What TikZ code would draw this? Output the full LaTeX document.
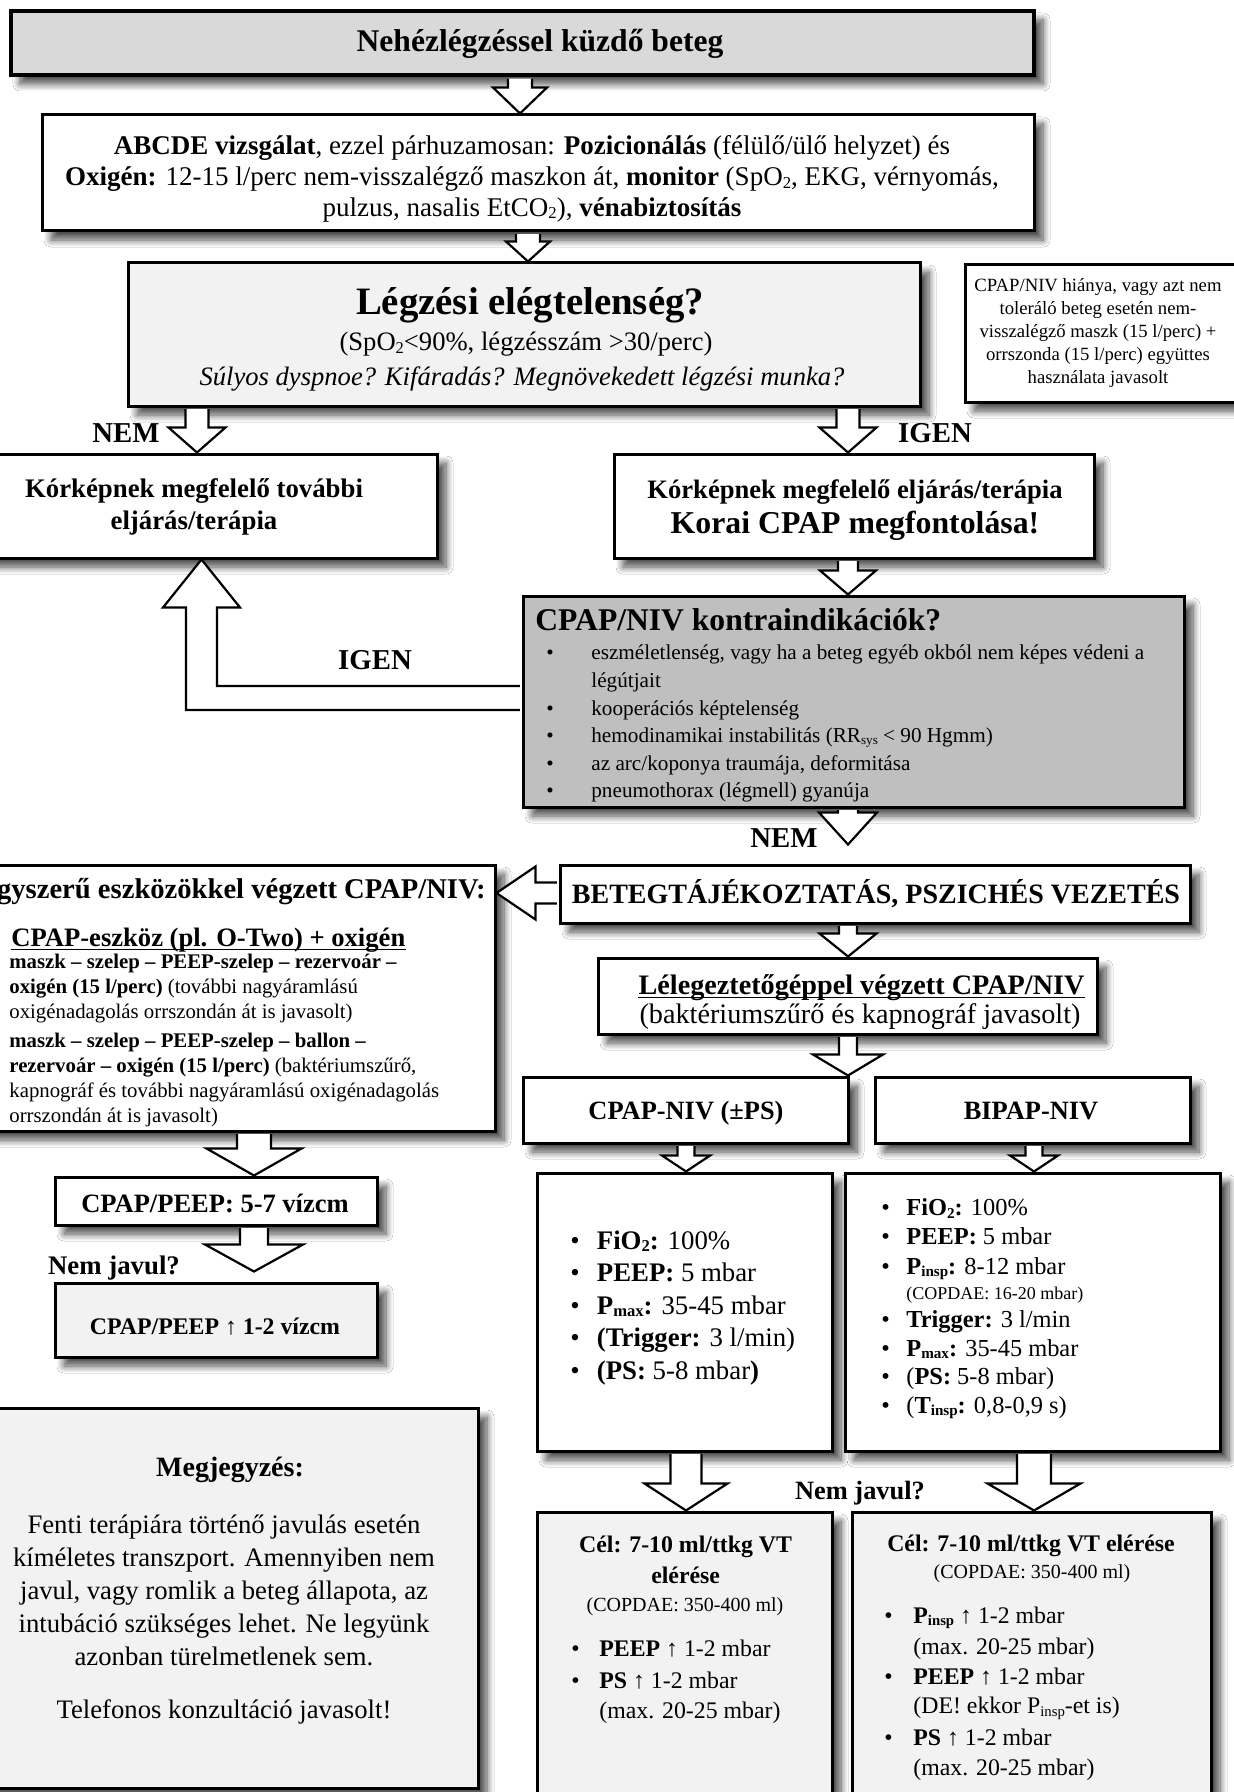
\documentclass[tikz,border=0pt]{standalone}
\usepackage{fontspec}
\usepackage{graphicx}
\setmainfont{Liberation Serif}
\usetikzlibrary{calc,shadows.blur}
\newcommand\fs[2]{\fontsize{#1pt}{#2pt}\selectfont}
\newcommand\kb[1]{\makebox[#1][l]{•}}
\newcommand\sbs[1]{\raisebox{-0.1em}{\scalebox{0.62}{#1}}}
\newcommand\dnblk[5]{\draw[blk] let \p1=#1, \p2=#2 in (\x1-#3,\y1-0.8pt) -- (\x1-#3,\y2+#5) -- (\x1-#4,\y2+#5) -- (\x1,\y2) -- (\x1+#4,\y2+#5) -- (\x1+#3,\y2+#5) -- (\x1+#3,\y1-0.8pt);}
\newcommand\ltblk[5]{\draw[blk] let \p1=#1, \p2=#2 in (\x1-0.8pt,\y1+#3) -- (\x2+#5,\y1+#3) -- (\x2+#5,\y1+#4) -- (\x2,\y1) -- (\x2+#5,\y1-#4) -- (\x2+#5,\y1-#3) -- (\x1-0.8pt,\y1-#3);}
\tikzset{
 bx/.style={draw, line width=1.5pt, fill=white, inner sep=0pt, blur shadow={shadow xshift=4.5pt, shadow yshift=-4.5pt, shadow blur radius=3.5pt, shadow blur steps=10, shadow opacity=70}},
 blk/.style={draw, fill=white, line width=1.1pt, line join=miter},
 txt/.style={inner sep=0pt, text height=0.72em, text depth=0.25em, yshift=-2.85pt},
 ml/.style={inner sep=0pt, yshift=-1.4pt},
 ul/.style={line width=0.8pt}
}
\begin{document}
\begin{tikzpicture}[x=0.5pt,y=-0.5pt]
\useasboundingbox (0,0) rectangle (1234,1792);
\fill[white] (0,0) rectangle (1234,1792);
% boxes
\node[bx, fill=gray!30, line width=2pt, minimum width=511.5pt, minimum height=32pt] (title) at (522.5,43) {};
\node[bx, minimum width=496pt, minimum height=58pt] (abcde) at (538,173) {};
\node[bx, fill=gray!10, minimum width=396pt, minimum height=71.5pt] (legz) at (524,334.5) {};
\node[bx, minimum width=142.5pt, minimum height=68.5pt] (side) at (1107.5,333.5) {};
\node[bx, minimum width=243pt, minimum height=52pt] (korL) at (194,506) {};
\node[bx, minimum width=240pt, minimum height=52pt] (korR) at (854,506) {};
\node[bx, fill=gray!50, minimum width=330.5pt, minimum height=105.5pt] (kontra) at (853.5,701.5) {};
\node[bx, minimum width=315pt, minimum height=29pt] (beteg) at (875,894) {};
\node[bx, minimum width=267.5pt, minimum height=133pt] (egy) at (227.5,998) {};
\node[bx, minimum width=249.5pt, minimum height=38pt] (lel) at (847.5,996) {};
\node[bx, minimum width=162.5pt, minimum height=33pt] (cpapniv) at (685.5,1110) {};
\node[bx, minimum width=157.5pt, minimum height=33pt] (bipapniv) at (1032.5,1110) {};
\node[bx, minimum width=147.5pt, minimum height=139pt] (cpappar) at (684.5,1312) {};
\node[bx, minimum width=187.5pt, minimum height=139pt] (bipappar) at (1032.5,1312) {};
\node[bx, fill=gray!10, minimum width=147.5pt, minimum height=149pt] (celL) at (684.5,1661) {};
\node[bx, fill=gray!10, minimum width=179.5pt, minimum height=149pt] (celR) at (1031.5,1661) {};
\node[bx, minimum width=161pt, minimum height=24pt] (peep57) at (216,1201) {};
\node[bx, fill=gray!10, minimum width=161pt, minimum height=37pt] (peepup) at (216,1320) {};
\node[bx, fill=gray!10, minimum width=251.5pt, minimum height=190pt] (megj) at (226.5,1598) {};
% arrow positions
\coordinate (ax1) at (520,0);
\coordinate (ax2) at (528,0);
\coordinate (axN) at (197,0);
\coordinate (axI) at (848,0);
\coordinate (ax7) at (686,0);
\coordinate (ax8) at (1034,0);
\coordinate (axL) at (254,0);
\coordinate (ay) at (0,893);
\coordinate (yI) at (0,698);
\coordinate (xI) at (201.5,0);
% arrows
\dnblk{(title.south -| ax1)}{(abcde.north -| ax1)}{6pt}{13.5pt}{13pt}
\dnblk{(abcde.south -| ax2)}{(legz.north -| ax2)}{6pt}{11pt}{10pt}
\dnblk{(legz.south -| axN)}{(korL.north -| axN)}{5.75pt}{14.25pt}{12.5pt}
\dnblk{(legz.south -| axI)}{(korR.north -| axI)}{5.75pt}{14.25pt}{12.5pt}
\dnblk{(korR.south -| axI)}{(kontra.north -| axI)}{5pt}{14pt}{12pt}
\dnblk{(kontra.south -| axI)}{($(beteg.north -| axI)+(0,-19)$)}{5pt}{14.5pt}{16pt}
\dnblk{(beteg.south -| axI)}{(lel.north -| axI)}{4.5pt}{14.25pt}{11.5pt}
\dnblk{(lel.south -| axI)}{(cpapniv.north -| axI)}{4.5pt}{17.5pt}{10.5pt}
\dnblk{(cpapniv.south -| ax7)}{(cpappar.north -| ax7)}{4.25pt}{12pt}{8pt}
\dnblk{(bipapniv.south -| ax8)}{(bipappar.north -| ax8)}{4.25pt}{12pt}{8pt}
\dnblk{(cpappar.south -| ax7)}{(celL.north -| ax7)}{7.75pt}{20.75pt}{13.5pt}
\dnblk{(bipappar.south -| ax8)}{(celR.north -| ax8)}{8.5pt}{23.25pt}{13.5pt}
\dnblk{(egy.south -| axL)}{(peep57.north -| axL)}{8.5pt}{23.75pt}{13.5pt}
\dnblk{(peep57.south -| axL)}{($(peepup.north -| axL)+(0,-10)$)}{7pt}{24.5pt}{13.5pt}
\ltblk{(beteg.west |- ay)}{(egy.east |- ay)}{5.25pt}{13.25pt}{19.5pt}
\draw[blk] let \p1=(kontra.west |- yI), \p2=(korL.south -| xI) in (\x1-0.8pt,\y1+6pt) -- (\x2+7.75pt,\y1+6pt) -- (\x2+7.75pt,\y2-24pt) -- (\x2+19.25pt,\y2-24pt) -- (\x2,\y2) -- (\x2-19.25pt,\y2-24pt) -- (\x2-7.75pt,\y2-24pt) -- (\x2-7.75pt,\y1-6pt) -- (\x1-0.8pt,\y1-6pt);
% texts
\node[txt, font=\bfseries\fs{15.8}{18}] (t1) at (540,41) {Nehézlégzéssel küzdő beteg};
\node[ml, align=center, font=\fs{13.5}{15.4}] (t2) at (532,176) {\textbf{ABCDE vizsgálat}, ezzel párhuzamosan: \textbf{Pozicionálás} (félülő/ülő helyzet) és\\ \textbf{Oxigén:} 12-15 l/perc nem-visszalégző maszkon át, \textbf{monitor} (SpO\sbs{2}, EKG, vérnyomás,\\ pulzus, nasalis EtCO\sbs{2}), \textbf{vénabiztosítás}};
\node[txt, font=\bfseries\fs{19.4}{22}] (t3a) at (530,304) {Légzési elégtelenség?};
\node[txt, font=\fs{13.3}{15}] (t3b) at (526,340.5) {(SpO\sbs{2}<90\%, légzésszám >30/perc)};
\node[txt, font=\itshape\fs{13.3}{15}] (t3c) at (522,375) {Súlyos dyspnoe? Kifáradás? Megnövekedett légzési munka?};
\node[ml, align=center, font=\fs{9.35}{11.45}] (t4) at (1098,330) {CPAP/NIV hiánya, vagy azt nem\\ toleráló beteg esetén nem-\\ visszalégző maszk (15 l/perc) +\\ orrszonda (15 l/perc) együttes\\ használata javasolt};
\node[txt, font=\bfseries\fs{14.4}{16}] (t5) at (126,432) {NEM};
\node[txt, font=\bfseries\fs{14.4}{16}] (t6) at (935,432) {IGEN};
\node[ml, align=center, font=\bfseries\fs{13.4}{16}] (t7) at (194,504) {Kórképnek megfelelő további\\ eljárás/terápia};
\node[txt, font=\bfseries\fs{13.3}{15}] (t8a) at (855,488) {Kórképnek megfelelő eljárás/terápia};
\node[txt, font=\bfseries\fs{15.9}{18}] (t8b) at (855,523) {Korai CPAP megfontolása!};
\node[txt, anchor=west, font=\bfseries\fs{15.8}{18}] (t9) at (535,620) {CPAP/NIV kontraindikációk?};
\node[ml, anchor=west, align=left, font=\fs{10.6}{13.8}] (t10) at (546,721) {\kb{22.5pt}eszméletlenség, vagy ha a beteg egyéb okból nem képes védeni a\\ \hspace*{22.5pt}légútjait\\ \kb{22.5pt}kooperációs képtelenség\\ \kb{22.5pt}hemodinamikai instabilitás (RR\sbs{sys} < 90 Hgmm)\\ \kb{22.5pt}az arc/koponya traumája, deformitása\\ \kb{22.5pt}pneumothorax (légmell) gyanúja};
\node[txt, font=\bfseries\fs{14.4}{16}] (t11) at (784,837) {NEM};
\node[txt, font=\bfseries\fs{14.4}{16}] (t12) at (375,659) {IGEN};
\node[txt, font=\bfseries\fs{14}{16}] (t13) at (876,893.5) {BETEGTÁJÉKOZTATÁS, PSZICHÉS VEZETÉS};
\node[txt, anchor=east, font=\bfseries\fs{14.3}{16}] (t14) at (486,888) {Egyszerű eszközökkel végzett CPAP/NIV:};
\node[txt, anchor=west, font=\bfseries\fs{13.3}{15}] (t15) at (11,936) {CPAP-eszköz (pl. O-Two) + oxigén};
\draw[ul] ([yshift=-1.6pt]t15.base west) -- ([yshift=-1.6pt]t15.base east);
\node[ml, anchor=west, align=left, font=\fs{10.4}{12.5}] (t16) at (9,986) {\textbf{maszk – szelep – PEEP-szelep – rezervoár –}\\ \textbf{oxigén (15 l/perc)} (további nagyáramlású\\ oxigénadagolás orrszondán át is javasolt)};
\node[ml, anchor=west, align=left, font=\fs{10.4}{12.5}] (t17) at (9,1077) {\textbf{maszk – szelep – PEEP-szelep – ballon –}\\ \textbf{rezervoár – oxigén (15 l/perc)} (baktériumszűrő,\\ kapnográf és további nagyáramlású oxigénadagolás\\ orrszondán át is javasolt)};
\node[txt, font=\bfseries\fs{13.25}{15}] (t18) at (215,1202) {CPAP/PEEP: 5-7 vízcm};
\node[txt, font=\bfseries\fs{13.4}{15}] (t19) at (114,1264) {Nem javul?};
\node[txt, font=\bfseries\fs{11.9}{14}] (t20) at (215,1324) {CPAP/PEEP ↑ 1-2 vízcm};
\node[txt, font=\bfseries\fs{14}{16}] (t21) at (230,1466) {Megjegyzés:};
\node[ml, align=center, font=\fs{13.35}{16.4}] (t22) at (224,1587.5) {Fenti terápiára történő javulás esetén\\ kíméletes transzport. Amennyiben nem\\ javul, vagy romlik a beteg állapota, az\\ intubáció szükséges lehet. Ne legyünk\\ azonban türelmetlenek sem.};
\node[txt, font=\fs{13.35}{16.4}] (t23) at (224,1708) {Telefonos konzultáció javasolt!};
\node[txt, font=\bfseries\fs{14.1}{15}] (t24a) at (861.5,984) {Lélegeztetőgéppel végzett CPAP/NIV};
\draw[ul] ([yshift=-1.6pt]t24a.base west) -- ([yshift=-1.6pt]t24a.base east);
\node[txt, font=\fs{14.1}{15}] (t24b) at (860,1013.5) {(baktériumszűrő és kapnográf javasolt)};
\node[txt, font=\bfseries\fs{13.2}{15}] (t25) at (686,1109.5) {CPAP-NIV (±PS)};
\node[txt, font=\bfseries\fs{13.2}{15}] (t26) at (1031,1109.5) {BIPAP-NIV};
\node[ml, anchor=west, align=left, font=\fs{13.4}{16.3}] (t27) at (570,1305) {\kb{13.25pt}\textbf{FiO\sbs{2}:} 100\%\\ \kb{13.25pt}\textbf{PEEP:} 5 mbar\\ \kb{13.25pt}\textbf{P\sbs{max}:} 35-45 mbar\\ \kb{13.25pt}\textbf{(Trigger:} 3 l/min)\\ \kb{13.25pt}\textbf{(PS:} 5-8 mbar\textbf{)}};
% BIPAP params
\node[txt, anchor=west, font=\fs{12.2}{14}] (b1) at (881,1205.5) {\kb{12.5pt}\textbf{FiO\sbs{2}:} 100\%};
\node[txt, anchor=west, font=\fs{12.2}{14}] (b2) at (881,1234) {\kb{12.5pt}\textbf{PEEP:} 5 mbar};
\node[txt, anchor=west, font=\fs{12.2}{14}] (b3) at (881,1264) {\kb{12.5pt}\textbf{P\sbs{insp}:} 8-12 mbar};
\node[txt, anchor=west, font=\fs{9}{11}] (b4) at (906,1289) {(COPDAE: 16-20 mbar)};
\node[txt, anchor=west, font=\fs{12.2}{14}] (b5) at (881,1317) {\kb{12.5pt}\textbf{Trigger:} 3 l/min};
\node[txt, anchor=west, font=\fs{12.2}{14}] (b6) at (881,1346) {\kb{12.5pt}\textbf{P\sbs{max}:} 35-45 mbar};
\node[txt, anchor=west, font=\fs{12.2}{14}] (b7) at (881,1374.5) {\kb{12.5pt}(\textbf{PS:} 5-8 mbar)};
\node[txt, anchor=west, font=\fs{12.2}{14}] (b8) at (881,1403) {\kb{12.5pt}(\textbf{T\sbs{insp}:} 0,8-0,9 s)};
\node[txt, font=\bfseries\fs{13.2}{15}] (t29) at (860,1489) {Nem javul?};
% Cel left
\node[txt, font=\bfseries\fs{11.9}{14}] (c1) at (685.6,1542.5) {Cél: 7-10 ml/ttkg VT};
\node[txt, font=\bfseries\fs{11.9}{14}] (c2) at (685.6,1573) {elérése};
\node[txt, font=\fs{10}{12}] (c3) at (685,1601) {(COPDAE: 350-400 ml)};
\node[txt, anchor=west, font=\fs{11.9}{14}] (c4) at (571,1646.5) {\kb{14pt}\textbf{PEEP} ↑ 1-2 mbar};
\node[txt, anchor=west, font=\fs{11.9}{14}] (c5) at (571,1678.5) {\kb{14pt}\textbf{PS} ↑ 1-2 mbar};
\node[txt, anchor=west, font=\fs{11.9}{14}] (c6) at (599,1708) {(max. 20-25 mbar)};
% Cel right
\node[txt, font=\bfseries\fs{11.9}{14}] (d1) at (1031,1541) {Cél: 7-10 ml/ttkg VT elérése};
\node[txt, font=\fs{10}{12}] (d2) at (1032,1568) {(COPDAE: 350-400 ml)};
\node[txt, anchor=west, font=\fs{11.9}{14}] (d3) at (884,1613) {\kb{14.5pt}\textbf{P\sbs{insp}} ↑ 1-2 mbar};
\node[txt, anchor=west, font=\fs{11.9}{14}] (d4) at (913,1644) {(max. 20-25 mbar)};
\node[txt, anchor=west, font=\fs{11.9}{14}] (d5) at (884,1674) {\kb{14.5pt}\textbf{PEEP} ↑ 1-2 mbar};
\node[txt, anchor=west, font=\fs{11.9}{14}] (d6) at (913,1703.5) {(DE! ekkor P\sbs{insp}-et is)};
\node[txt, anchor=west, font=\fs{11.9}{14}] (d7) at (884,1735.5) {\kb{14.5pt}\textbf{PS} ↑ 1-2 mbar};
\node[txt, anchor=west, font=\fs{11.9}{14}] (d8) at (913,1765.5) {(max. 20-25 mbar)};
\end{tikzpicture}
\end{document}
